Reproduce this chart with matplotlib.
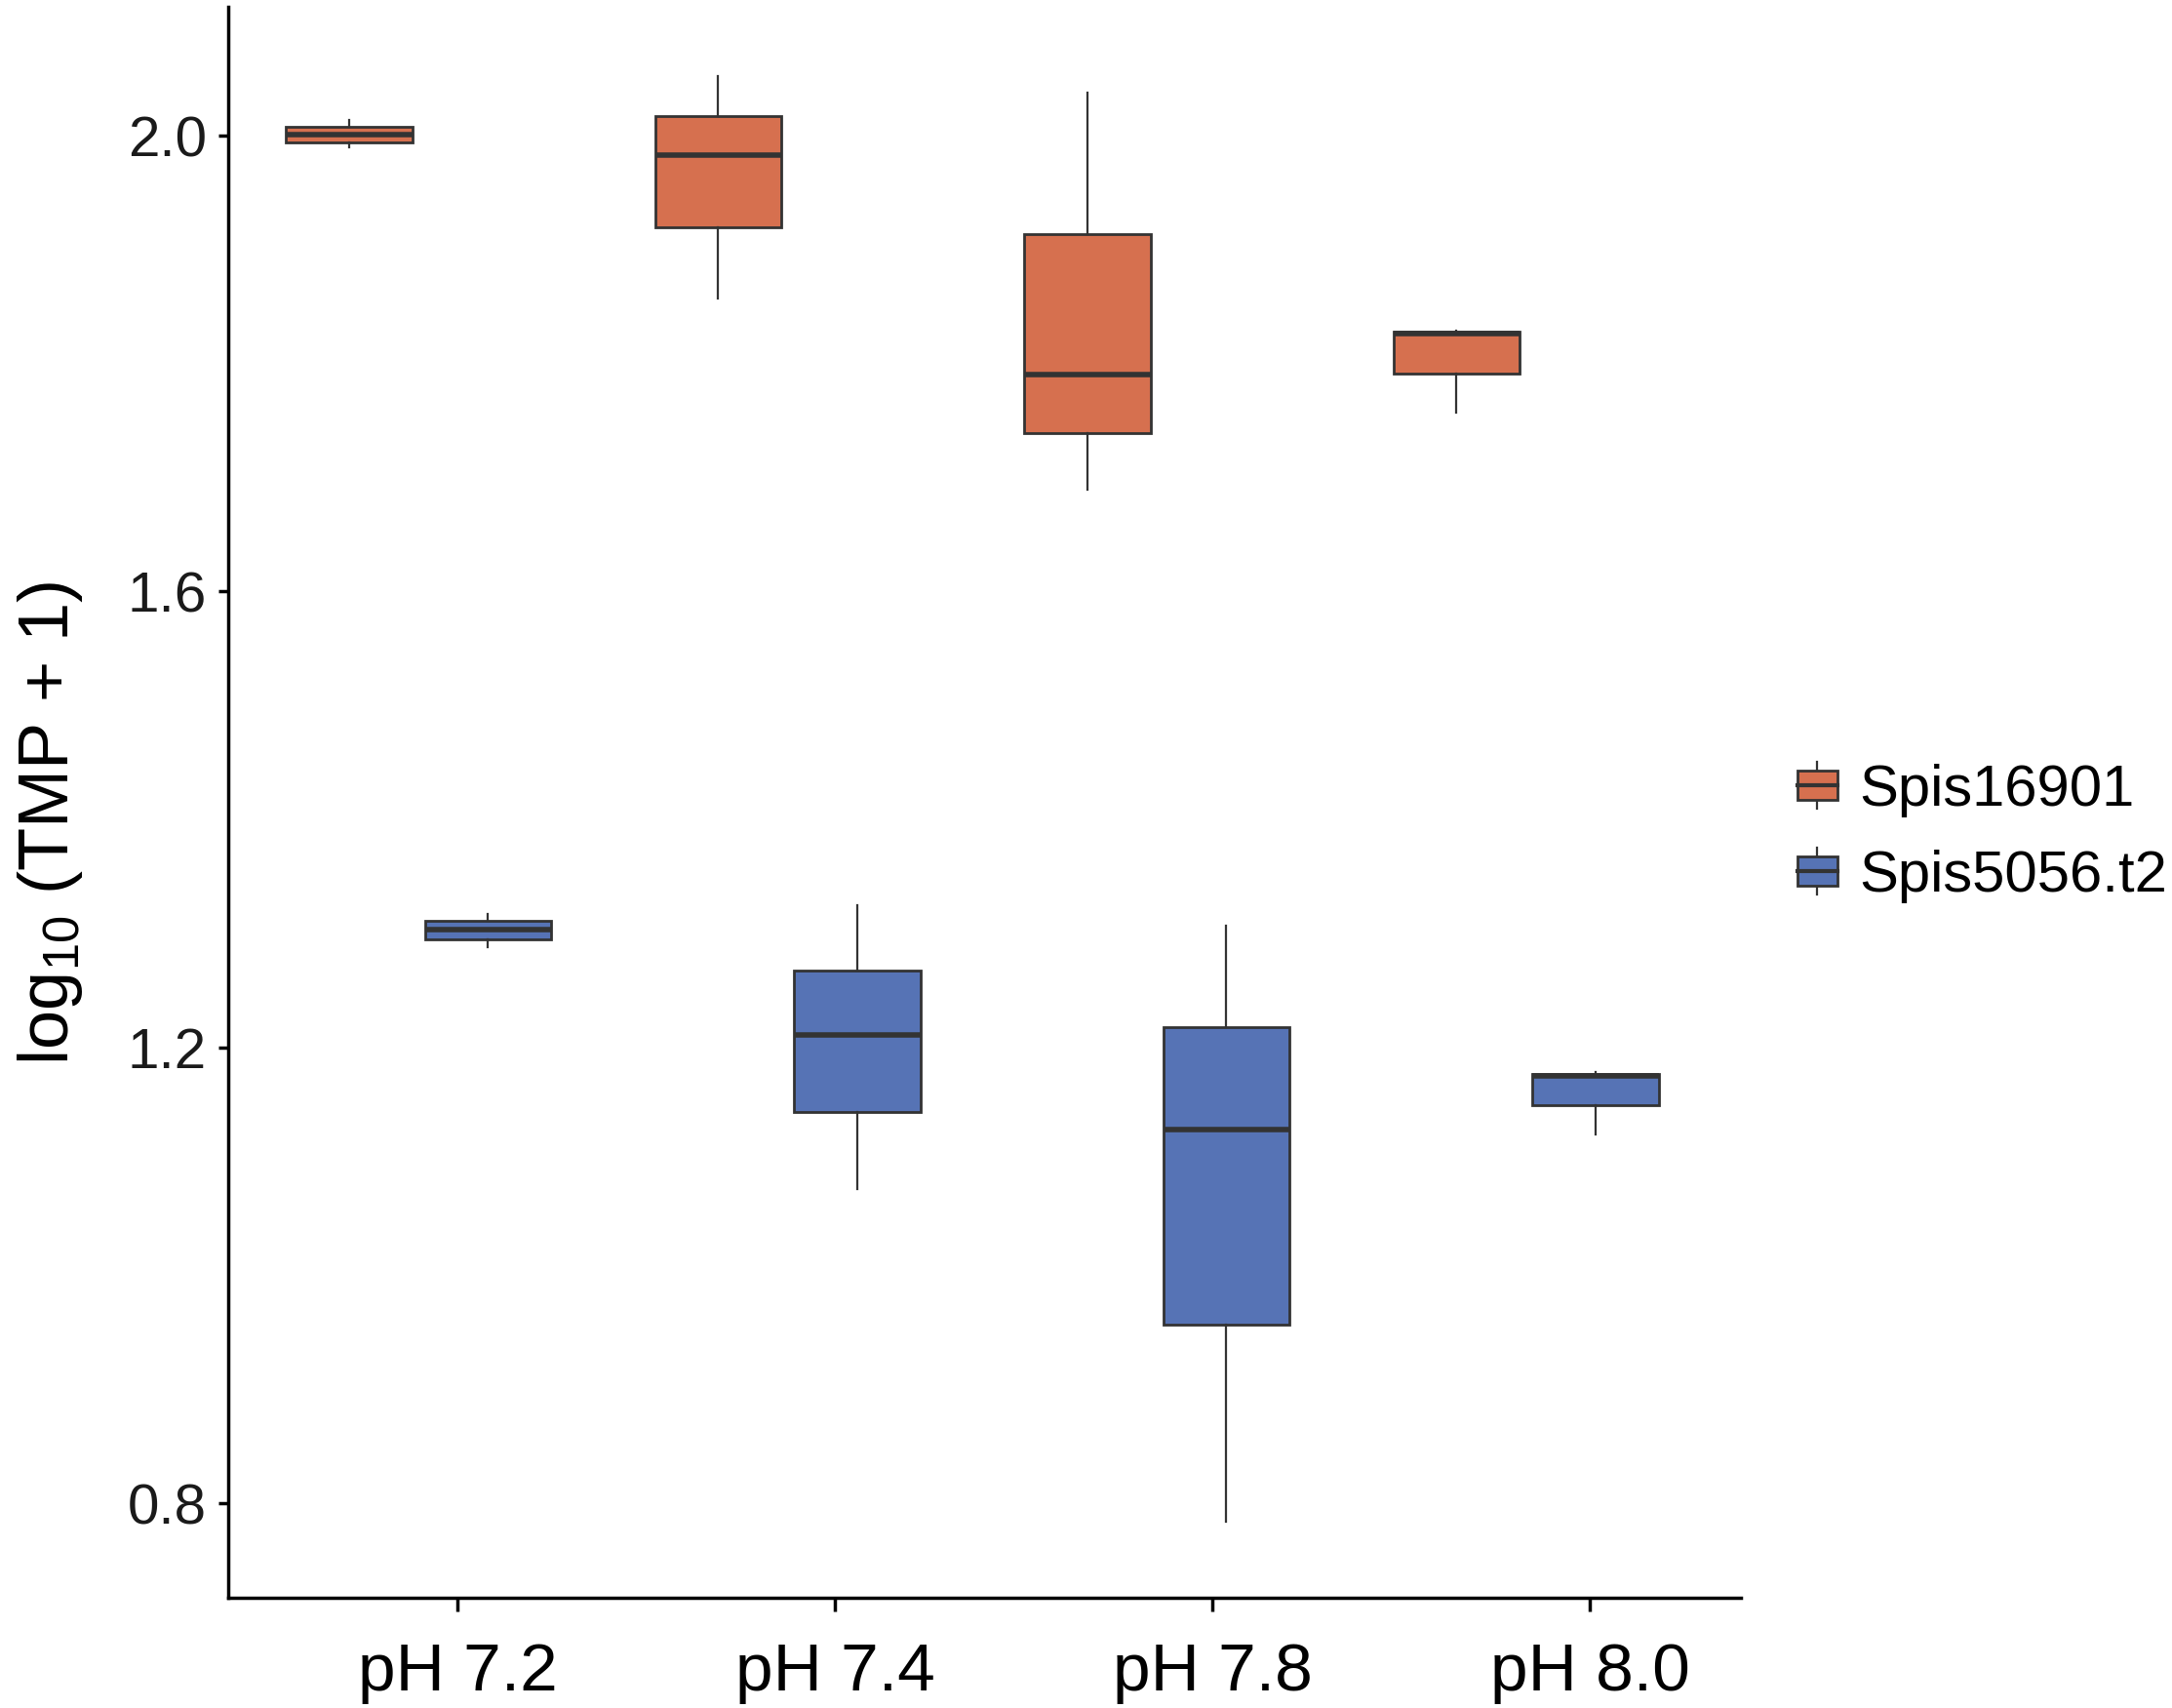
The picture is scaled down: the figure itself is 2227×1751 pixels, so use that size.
import matplotlib
matplotlib.use("Agg")
import matplotlib.pyplot as plt
from matplotlib.patches import Rectangle
from matplotlib.lines import Line2D
from matplotlib.legend_handler import HandlerBase

plt.rcParams['font.family'] = ['Liberation Sans', 'DejaVu Sans']
plt.rcParams['mathtext.fontset'] = 'custom'
plt.rcParams['mathtext.rm'] = 'Liberation Sans'

# ---- data ----
categories = ["pH 7.2", "pH 7.4", "pH 7.8", "pH 8.0"]
series_names = ["Spis16901", "Spis5056.t2"]
red_whislo = [1.990, 1.857, 1.689, 1.757]
red_q1     = [1.994, 1.920, 1.739, 1.791]
red_med    = [2.001, 1.983, 1.790, 1.826]
red_q3     = [2.008, 2.017, 1.914, 1.828]
red_whishi = [2.014, 2.052, 2.038, 1.829]
blue_whislo = [1.288, 1.076, 0.784, 1.124]
blue_q1     = [1.295, 1.143, 0.957, 1.149]
blue_med    = [1.303, 1.211, 1.128, 1.175]
blue_q3     = [1.311, 1.267, 1.218, 1.177]
blue_whishi = [1.317, 1.325, 1.307, 1.178]
y_ticks = [0.8, 1.2, 1.6, 2.0]

colors = ["#D6704F", "#5673B5"]
edge = "#333333"

fig = plt.figure(figsize=(22.27, 17.51), dpi=100)
ax = fig.add_axes([0.1051, 0.0645, 0.6964, 0.9315])

group_step = 0.978
group_offset = -0.103
dodge = 0.184
box_w = 0.334

def stats(wl, q1, md, q3, wh):
    return [dict(whislo=a, q1=b, med=c, q3=d, whishi=e, fliers=[])
            for a, b, c, d, e in zip(wl, q1, md, q3, wh)]

all_stats = [stats(red_whislo, red_q1, red_med, red_q3, red_whishi),
             stats(blue_whislo, blue_q1, blue_med, blue_q3, blue_whishi)]

for s_i, (st, col) in enumerate(zip(all_stats, colors)):
    pos = [group_offset + group_step * i + (-dodge if s_i == 0 else dodge)
           for i in range(len(categories))]
    ax.bxp(st, positions=pos, widths=box_w, patch_artist=True, showfliers=False,
           showcaps=False,
           boxprops=dict(facecolor=col, edgecolor=edge, linewidth=2.0),
           medianprops=dict(color=edge, linewidth=4.0, solid_capstyle='butt'),
           whiskerprops=dict(color=edge, linewidth=1.6),
           manage_ticks=False)

ax.set_xlim(-0.607, 3.40)
ax.set_ylim(0.717, 2.113)
ax.set_xticks(range(len(categories)))
ax.set_xticklabels(categories)
ax.set_yticks(y_ticks)
ax.set_yticklabels([f"{v:.1f}" for v in y_ticks])

for sp in ["top", "right"]:
    ax.spines[sp].set_visible(False)
for sp in ["left", "bottom"]:
    ax.spines[sp].set_linewidth(2.5)
    ax.spines[sp].set_color("black")

ax.tick_params(axis='y', labelsize=42, length=7, width=2.5, pad=9, colors='black')
ax.tick_params(axis='x', labelsize=50, length=10, width=2.5, pad=22, colors='black')
for t in ax.get_yticklabels():
    t.set_color('#1a1a1a')

ax.set_ylabel(r"log$_{\mathregular{10}}$ (TMP + 1)", fontsize=52, labelpad=31, y=0.487)


class BoxHandler(HandlerBase):
    def __init__(self, color):
        super().__init__()
        self.color = color

    def create_artists(self, legend, orig_handle, xdescent, ydescent, width,
                       height, fontsize, trans):
        cx = width / 2 - xdescent
        bh = height * 0.75
        y0 = (height - bh) / 2 - ydescent
        rect = Rectangle((-xdescent, y0), width, bh, facecolor=self.color,
                         edgecolor=edge, linewidth=2.0, transform=trans)
        wl = Line2D([cx, cx], [y0 - bh * 0.3, y0 + bh * 1.3], color=edge,
                    linewidth=1.6, transform=trans)
        med = Line2D([-xdescent, width - xdescent], [y0 + bh / 2, y0 + bh / 2],
                     color=edge, linewidth=3.0, transform=trans)
        return [wl, rect, med]


h1 = Rectangle((0, 0), 1, 1)
h2 = Rectangle((0, 0), 1, 1)
leg = fig.legend([h1, h2], series_names, loc='center left',
                 bbox_to_anchor=(0.8276, 0.512), frameon=False, fontsize=43,
                 handler_map={h1: BoxHandler(colors[0]), h2: BoxHandler(colors[1])},
                 handlelength=0.68, handleheight=0.66, handletextpad=0.38,
                 labelspacing=0.55, borderpad=0, borderaxespad=0)

fig.savefig("out.png", dpi=100, facecolor='white')
